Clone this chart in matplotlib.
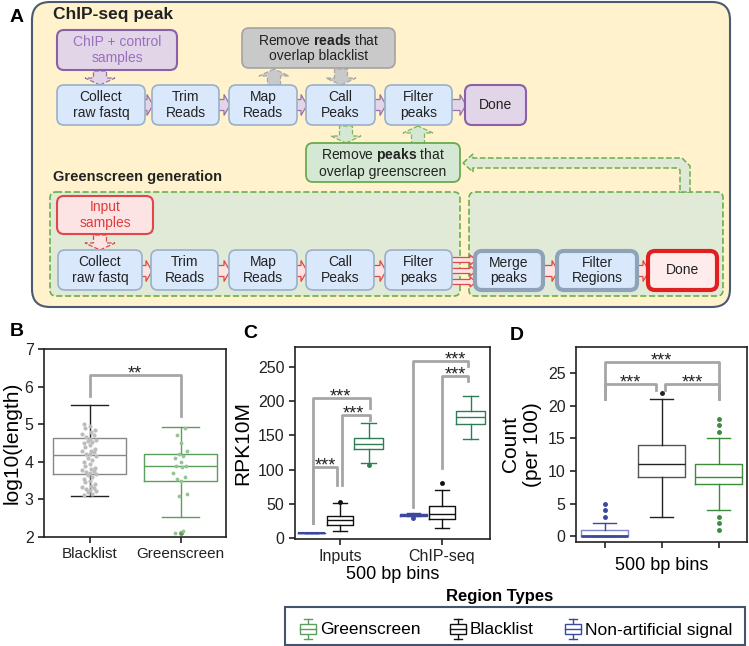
import matplotlib
matplotlib.use('Agg')
import matplotlib.pyplot as plt
from matplotlib.patches import FancyBboxPatch, FancyArrow, Rectangle, Polygon

plt.rcParams['font.family'] = ['Liberation Sans', 'DejaVu Sans']
plt.rcParams['mathtext.fontset'] = 'custom'
plt.rcParams['mathtext.rm'] = 'Liberation Sans'
plt.rcParams['mathtext.bf'] = 'Liberation Sans:bold'

# ---------------- data ----------------
# panel B: log10(length) of regions
b_labels = ['Blacklist', 'Greenscreen']
b_q1 = [3.68, 3.50]
b_med = [4.17, 3.88]
b_q3 = [4.62, 4.20]
b_lo = [3.10, 2.52]
b_hi = [5.52, 4.92]
b_fliers = [[], [2.10]]
b_pts_black = [3.12, 3.15, 3.2, 3.22, 3.25, 3.28, 3.3, 3.33, 3.36, 3.4, 3.45, 3.5, 3.55,
               3.6, 3.65, 3.68, 3.7, 3.72, 3.75, 3.78, 3.8, 3.84, 3.9, 3.95, 4.0, 4.05,
               4.1, 4.15, 4.2, 4.22, 4.25, 4.28, 4.3, 4.35, 4.4, 4.45, 4.5, 4.52, 4.55,
               4.58, 4.6, 4.65, 4.7, 4.75, 4.8, 4.85, 4.9, 4.95, 5.0]
b_pts_green = [2.1, 2.15, 3.1, 3.15, 3.5, 3.55, 3.6, 3.7, 3.85, 3.88, 3.9, 4.0,
               4.1, 4.15, 4.2, 4.3, 4.5, 4.7, 4.9]

# panel C: RPK10M, order [Inputs, ChIP-seq]
c_labels = ['Inputs', 'ChIP-seq']
c_na_q1 = [8, 32];    c_na_med = [8, 34];    c_na_q3 = [8, 36]
c_na_lo = [8, 32];    c_na_hi = [8, 37];     c_na_fl = [[], [29]]
c_bl_q1 = [20, 28];   c_bl_med = [26, 35];   c_bl_q3 = [32, 47]
c_bl_lo = [10, 15];   c_bl_hi = [52, 70];    c_bl_fl = [[53], [80]]
c_gs_q1 = [130, 166]; c_gs_med = [138, 177]; c_gs_q3 = [146, 185]
c_gs_lo = [110, 145]; c_gs_hi = [168, 207];  c_gs_fl = [[107], []]

# panel D: count per 100, order [Non-artificial, Blacklist, Greenscreen]
d_q1 = [0, 9, 8]
d_med = [0, 11, 9]
d_q3 = [1, 14, 11]
d_lo = [0, 3, 4]
d_hi = [2, 21, 15]
d_fliers = [[3, 4, 5], [22], [1, 2, 3, 16, 17, 18]]

legend_labels = ['Greenscreen', 'Blacklist', 'Non-artificial signal']

GREEN_B = '#5c9e5c'
GREEN_C = '#2f7d52'
GREEN_D = '#3c8c3c'
BLUE = '#3a48a0'
BLACK = '#111111'
BRK = '#a6a6a6'

fig = plt.figure(figsize=(7.49, 6.46), dpi=100)

# ---------------- panel A (pixel coords overlay) ----------------
fa = fig.add_axes([0, 0, 1, 1])
fa.set_xlim(0, 749)
fa.set_ylim(646, 0)
fa.axis('off')


def box(x0, y0, x1, y1, fc, ec, text='', tc='#222222', lw=1.2, ls='-', r=7, fs=10, z=3):
    p = FancyBboxPatch((x0, y0), x1 - x0, y1 - y0,
                       boxstyle='round,pad=0,rounding_size=%g' % r,
                       fc=fc, ec=ec, lw=lw, ls=ls, zorder=z)
    fa.add_patch(p)
    if text:
        fa.text((x0 + x1) / 2, (y0 + y1) / 2, text, ha='center', va='center',
                color=tc, fontsize=fs, zorder=z + 1, linespacing=1.15)


def harrow(x0, x1, y, fc, ec, w=11, hw=21, hl=6):
    fa.add_patch(FancyArrow(x0, y, x1 - x0, 0, width=w, head_width=hw, head_length=hl,
                            length_includes_head=True, fc=fc, ec=ec, lw=0.9, zorder=2))


def varrow(x, y0, y1, fc, ec):
    fa.add_patch(FancyArrow(x, y0, 0, y1 - y0, width=13, head_width=30, head_length=7,
                            length_includes_head=True, fc=fc, ec=ec, lw=0.9, ls='--', zorder=2))


# outer frame
box(32, 2, 730, 307, '#fff2cc', '#4a5a70', lw=1.5, r=18, z=0)
fa.text(10, 17, 'A', fontsize=14, fontweight='bold', va='center')
fa.text(53, 15, 'ChIP-seq peak', fontsize=12.5, fontweight='bold', va='center', color='#222')
fa.text(53, 177, 'Greenscreen generation', fontsize=10.5, fontweight='bold', va='center', color='#222')

LB_FC, LB_EC = '#dae8fc', '#9ab0c8'
P_FC, P_EC = '#e1d5e7', '#9673a6'
R_FC, R_EC = '#fde4e4', '#e04848'
G_FC, G_EC = '#d5e8d4', '#82b366'

# row 1
row1 = [(57, 145, 'Collect\nraw fastq'), (152, 219, 'Trim\nReads'), (229, 297, 'Map\nReads'),
        (306, 375, 'Call\nPeaks'), (385, 452, 'Filter\npeaks')]
for x0, x1, t in row1:
    box(x0, 85, x1, 125, LB_FC, LB_EC, t)
box(465, 85, 526, 125, P_FC, '#8a60a8', 'Done', lw=1.5)
for (a0, a1) in [(144, 153), (218, 230), (296, 307), (374, 386), (451, 466)]:
    harrow(a0, a1, 105, P_FC, P_EC)

box(57, 30, 177, 70, P_FC, '#8a60a8', 'ChIP + control\nsamples', tc='#9a6fc0', lw=1.5)
box(242, 28, 395, 68, '#c9c9c9', '#a3a3a3', 'Remove $\\mathbf{reads}$ that\noverlap blacklist')
varrow(100, 71, 85, P_FC, P_EC)
varrow(274, 85, 69, '#c9c9c9', '#a8a8a8')
varrow(341, 69, 85, '#c9c9c9', '#a8a8a8')
varrow(346, 126, 143, G_FC, G_EC)
varrow(418, 143, 126, G_FC, G_EC)
box(306, 143, 460, 182, G_FC, '#6aaa50', 'Remove $\\mathbf{peaks}$ that\noverlap greenscreen', lw=1.3)

# greenscreen regions
box(50, 192, 460, 296, '#e0ead7', '#6ab04c', ls='--', r=6, z=1)
box(469, 192, 723, 296, '#e0ead7', '#6ab04c', ls='--', r=6, z=1)
fa.add_patch(Polygon([(463, 163), (473, 154), (473, 158), (682, 158), (690, 166), (690, 192),
                      (680, 192), (680, 170), (678, 168), (473, 168), (473, 172)], closed=True,
                     fc='#dfe9d6', ec='#6ab04c', lw=1.1, ls='--', zorder=1))

# row 2
row2 = [(58, 142, 'Collect\nraw fastq'), (151, 218, 'Trim\nReads'), (229, 297, 'Map\nReads'),
        (306, 374, 'Call\nPeaks'), (385, 452, 'Filter\npeaks')]
for x0, x1, t in row2:
    box(x0, 250, x1, 290, LB_FC, LB_EC, t)
box(475, 251, 543, 290, LB_FC, '#8ea2b8', 'Merge\npeaks', lw=3)
box(557, 251, 637, 290, LB_FC, '#8ea2b8', 'Filter\nRegions', lw=3)
box(648, 251, 717, 290, '#feecec', '#e02020', 'Done', lw=3)
for (a0, a1) in [(141, 152), (217, 230), (296, 307), (373, 386), (542, 558), (636, 649)]:
    harrow(a0, a1, 271, R_FC, R_EC)
for yy in [260, 271, 282]:
    harrow(451, 476, yy, R_FC, R_EC, w=5, hw=10, hl=6)
box(57, 196, 153, 234, '#fde4e4', '#e04848', 'Input\nsamples', tc='#e03a3a', lw=1.5)
varrow(100, 235, 250, R_FC, R_EC)

# legend
fa.text(500, 597, 'Region Types', fontsize=12, fontweight='bold', ha='center', va='center')
fa.add_patch(Rectangle((285, 607), 460, 38, fc='white', ec='#44546a', lw=1.5, zorder=1))
for xi, lab, col in zip([308, 458, 573], legend_labels, [GREEN_B, BLACK, BLUE]):
    cy = 629
    fa.plot([xi, xi], [cy - 10, cy + 10], color=col, lw=1, zorder=2)
    fa.plot([xi - 4, xi + 4], [cy - 10, cy - 10], color=col, lw=1, zorder=2)
    fa.plot([xi - 4, xi + 4], [cy + 10, cy + 10], color=col, lw=1, zorder=2)
    fa.add_patch(Rectangle((xi - 8, cy - 5), 16, 10, fc='white', ec=col, lw=1, zorder=3))
    fa.plot([xi - 8, xi + 8], [cy, cy], color=col, lw=1, zorder=4)
    fa.text(xi + 12, cy + 1, lab, fontsize=12.5, va='center', zorder=4)


# ---------------- helpers for box plots ----------------
def st(q1, med, q3, lo, hi, fl):
    return dict(q1=q1, med=med, q3=q3, whislo=lo, whishi=hi, fliers=fl)


def draw_box(ax, s, pos, w, col, boxcol=None, medcol=None, whiscol=None, medlw=1):
    boxcol = boxcol or col
    medcol = medcol or col
    whiscol = whiscol or col
    ax.bxp([s], positions=[pos], widths=w, manage_ticks=False, patch_artist=False,
           boxprops=dict(color=boxcol, lw=1),
           whiskerprops=dict(color=whiscol, lw=1),
           capprops=dict(color=whiscol, lw=1),
           medianprops=dict(color=medcol, lw=medlw),
           flierprops=dict(marker='o', markersize=2.5, markerfacecolor=col,
                           markeredgecolor=col))


def bracket(ax, x1, x2, yl, yr, top, txt, tx=None, fs=13):
    ax.plot([x1, x1, x2, x2], [yl, top, top, yr], color=BRK, lw=2, zorder=5)
    if tx is None:
        tx = (x1 + x2) / 2
    ax.annotate(txt, (tx, top), xytext=(0, -2.5), textcoords='offset points',
                ha='center', va='baseline', fontsize=fs, color='#222', zorder=6)


def style(ax):
    for s in ax.spines.values():
        s.set_linewidth(1.2)
        s.set_color('#222')
    ax.tick_params(labelsize=11.5, length=4, width=1.2, colors='#222')


# ---------------- panel B ----------------
axb = fig.add_axes([44 / 749, 1 - 537 / 646, 182 / 749, 188 / 646])
offs = [-0.06, 0.03, -0.02, 0.07, 0.0, -0.04, 0.05, -0.08, 0.02, 0.06, -0.05, 0.01]
axb.scatter([0 + offs[i % len(offs)] for i in range(len(b_pts_black))], b_pts_black,
            s=4, color='#bdbdbd', zorder=3)
axb.scatter([1 + offs[i % len(offs)] for i in range(len(b_pts_green))], b_pts_green,
            s=3, color='#93c493', zorder=3)
draw_box(axb, st(b_q1[0], b_med[0], b_q3[0], b_lo[0], b_hi[0], b_fliers[0]), 0, 0.8,
         '#888888', whiscol='#222222')
draw_box(axb, st(b_q1[1], b_med[1], b_q3[1], b_lo[1], b_hi[1], b_fliers[1]), 1, 0.8, GREEN_B)
axb.set_xlim(-0.5, 1.5)
axb.set_ylim(2, 7)
axb.set_yticks(range(2, 8))
axb.set_xticks([0, 1])
axb.set_xticklabels(b_labels)
axb.set_ylabel('log10(length)', fontsize=15, labelpad=2)
style(axb)
axb.tick_params(axis='x', labelsize=11)
bracket(axb, 0, 1, 5.75, 5.22, 6.3, '**')
fig.text(10 / 749, 1 - 331 / 646, 'B', fontsize=14, fontweight='bold', va='center')

# ---------------- panel C ----------------
axc = fig.add_axes([295 / 749, 1 - 539 / 646, 195 / 749, 192 / 646])
for g in range(2):
    draw_box(axc, st(c_na_q1[g], c_na_med[g], c_na_q3[g], c_na_lo[g], c_na_hi[g], c_na_fl[g]),
             g - 0.28, 0.26, BLUE, medlw=1.5)
    draw_box(axc, st(c_bl_q1[g], c_bl_med[g], c_bl_q3[g], c_bl_lo[g], c_bl_hi[g], c_bl_fl[g]),
             g, 0.26, BLACK)
    draw_box(axc, st(c_gs_q1[g], c_gs_med[g], c_gs_q3[g], c_gs_lo[g], c_gs_hi[g], c_gs_fl[g]),
             g + 0.28, 0.28, GREEN_C)
axc.set_xlim(-0.44, 1.47)
axc.set_ylim(-1, 279)
axc.set_yticks(range(0, 251, 50))
axc.set_xticks([0, 1])
axc.set_xticklabels(c_labels)
axc.set_xlabel('500 bp bins', fontsize=13, labelpad=1)
axc.set_ylabel('RPK10M', fontsize=15)
style(axc)
bracket(axc, -0.265, -0.03, 22, 78, 104, '***', tx=-0.14)
bracket(axc, 0.02, 0.29, 78, 172, 180, '***', tx=0.13)
bracket(axc, -0.265, 0.29, 22, 190, 205, '***', tx=0.0)
bracket(axc, 0.72, 1.25, 45, 252, 259, '***', tx=1.13)
bracket(axc, 1.0, 1.25, 102, 229, 236, '***', tx=1.13)
fig.text(243 / 749, 1 - 333 / 646, 'C', fontsize=14, fontweight='bold', va='center')

# ---------------- panel D ----------------
axd = fig.add_axes([576 / 749, 1 - 542 / 646, 171 / 749, 195 / 646])
d_cols = [BLUE, '#222222', GREEN_D]
for i in range(3):
    draw_box(axd, st(d_q1[i], d_med[i], d_q3[i], d_lo[i], d_hi[i], d_fliers[i]), i, 0.82,
             d_cols[i], boxcol=('#7c86c8' if i == 0 else ('#555555' if i == 1 else None)),
             medlw=(2 if i == 0 else 1))
axd.set_xlim(-0.5, 2.5)
axd.set_ylim(-0.9, 29)
axd.set_yticks(range(0, 26, 5))
axd.set_xticks([0, 1, 2])
axd.set_xticklabels(['', '', ''])
axd.set_xlabel('500 bp bins', fontsize=13, labelpad=3)
axd.set_ylabel('Count\n(per 100)', fontsize=15)
style(axd)
bracket(axd, 0, 2, 21, 21, 26.7, '***')
bracket(axd, 0, 0.91, 21, 22.4, 23.3, '***')
bracket(axd, 1.07, 2, 22.4, 21, 23.3, '***')
fig.text(510 / 749, 1 - 335 / 646, 'D', fontsize=14, fontweight='bold', va='center')

fig.savefig('out.png', dpi=100)
